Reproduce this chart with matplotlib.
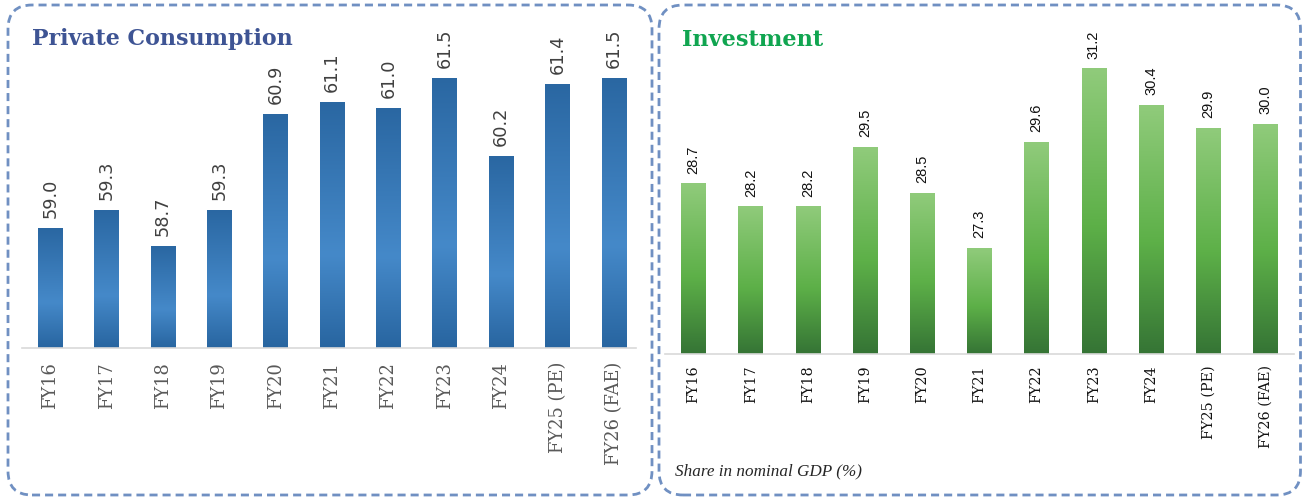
import matplotlib
matplotlib.use('Agg')
import matplotlib.pyplot as plt
import numpy as np
from matplotlib.patches import FancyBboxPatch
from matplotlib.transforms import IdentityTransform
from matplotlib.colors import LinearSegmentedColormap

categories = ["FY16", "FY17", "FY18", "FY19", "FY20", "FY21", "FY22", "FY23",
              "FY24", "FY25 (PE)", "FY26 (FAE)"]
consumption = [59.0, 59.3, 58.7, 59.3, 60.9, 61.1, 61.0, 61.5, 60.2, 61.4, 61.5]
investment = [28.7, 28.2, 28.2, 29.5, 28.5, 27.3, 29.6, 31.2, 30.4, 29.9, 30.0]

W, H = 1302, 498
fig = plt.figure(figsize=(W / 100, H / 100), dpi=100)


def px_axes(x0, x1, ybot, ytop):
    return fig.add_axes([x0 / W, 1 - ybot / H, (x1 - x0) / W, (ybot - ytop) / H])


blue_cmap = LinearSegmentedColormap.from_list(
    'b', [(0, '#2A67A2'), (0.62, '#4589C9'), (1, '#2865A0')])
green_cmap = LinearSegmentedColormap.from_list(
    'g', [(0, '#90CB7B'), (0.55, '#5DB048'), (1, '#357435')])


def draw_panel(ax, values, cmap, ylim, xlim, width, lab_kw, tick_kw, pad):
    ax.set_ylim(*ylim)
    ax.set_xlim(*xlim)
    x = np.arange(len(values))
    bars = ax.bar(x, values, width=width, color='none', edgecolor='none')
    grad = np.linspace(0, 1, 256).reshape(-1, 1)
    for rect in bars:
        x0 = rect.get_x()
        x1 = x0 + rect.get_width()
        y1 = rect.get_y() + rect.get_height()
        y0 = max(rect.get_y(), ylim[0])
        ax.imshow(grad, cmap=cmap, extent=[x0, x1, y0, y1], origin='upper',
                  aspect='auto', interpolation='bicubic', zorder=2)
    ax.set_ylim(*ylim)
    ax.set_xlim(*xlim)
    ax.set_aspect('auto')
    for xi, v in zip(x, values):
        ax.annotate(f"{v:.1f}", (xi, v), xytext=(0, 7.3), textcoords='offset points',
                    rotation=90, ha='center', va='bottom', **lab_kw)
    for s in ['top', 'left', 'right']:
        ax.spines[s].set_visible(False)
    ax.spines['bottom'].set_color('#D9D9D9')
    ax.spines['bottom'].set_linewidth(1.2)
    ax.spines['bottom'].set_zorder(3)
    ax.set_yticks([])
    ax.set_xticks(x)
    ax.set_xticklabels(categories, rotation=90, **tick_kw)
    ax.tick_params(axis='x', length=0, pad=pad)
    ax.patch.set_alpha(0)


ax1 = px_axes(22, 636, 348, 36)
draw_panel(ax1, consumption, blue_cmap, (57.0, 62.2), (-0.5, 10.39), 0.44,
           dict(fontfamily='DejaVu Sans', fontsize=12.8, color='#404040'),
           dict(fontfamily='DejaVu Serif', fontsize=12.9, color='#595959'), 10)

ax2 = px_axes(665, 1294, 354, 32)
draw_panel(ax2, investment, green_cmap, (25.0, 32.0), (-0.5, 10.5), 0.43,
           dict(fontfamily='Liberation Sans', fontsize=10.5, color='#111111'),
           dict(fontfamily='DejaVu Serif', fontsize=10.4, color='#111111'), 8)

# Titles
fig.text(32 / W, 1 - 45 / H, "Private Consumption", fontfamily='DejaVu Serif',
         fontweight='bold', fontsize=15.9, color='#3E5494', va='baseline', ha='left')
fig.text(682 / W, 1 - 45.5 / H, "Investment", fontfamily='DejaVu Serif',
         fontweight='bold', fontsize=16.1, color='#10A550', va='baseline', ha='left')
fig.text(675 / W, 1 - 475 / H, "Share in nominal GDP (%)", fontfamily='Liberation Serif',
         fontstyle='italic', fontsize=12.3, color='#262626', va='baseline', ha='left')

# Dashed rounded panel borders (pixel coordinates)
for (x0, x1) in [(8, 652), (659, 1300.5)]:
    box = FancyBboxPatch((x0, 498 - 495), x1 - x0, 490,
                         boxstyle="round,pad=0,rounding_size=24",
                         transform=IdentityTransform(), fill=False,
                         edgecolor='#7090C2', linewidth=2.0,
                         linestyle=(0, (2.9, 1.8)))
    fig.add_artist(box)

fig.savefig('out.png', dpi=100)
